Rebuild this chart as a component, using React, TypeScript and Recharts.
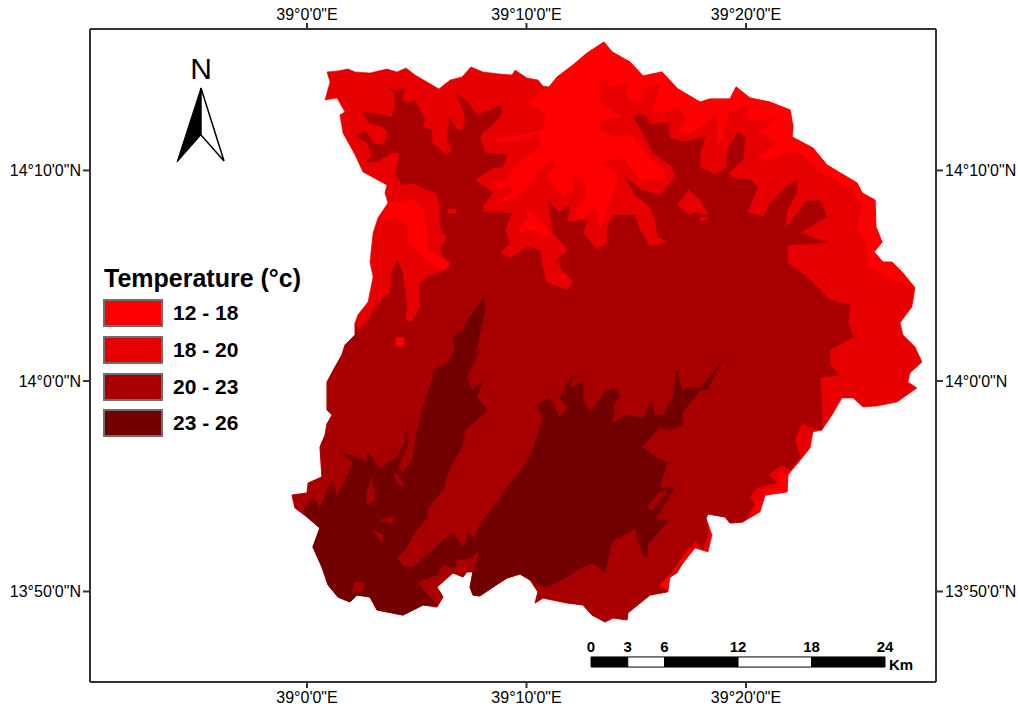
import React from "react";
import { ScatterChart, Scatter, XAxis, YAxis, ReferenceArea, ReferenceDot } from "recharts";

// Every map vertex is [arc-minutes east of 39°00', arc-minutes north of 14°00'].
type P = [number, number];

const rimNorth: P[] = [[0.91,14.68],[1.41,14.73],[1.87,14.82],[2.19,14.68],[2.87,14.63],[3.64,14.82],[4.10,14.68],[4.51,14.87],[4.92,14.54],[5.47,14.20],[6.01,13.87],[6.52,14.30],[7.06,14.44],[7.47,14.92],[8.02,14.68],[8.79,14.58],[9.34,14.54],[9.48,14.77],[10.02,14.39],[10.52,14.30],[10.75,14.01],[11.03,13.97],[11.39,14.44],[12.12,15.01],[12.76,15.58],[13.53,16.10],[13.90,15.63],[14.72,15.15],[15.31,14.49],[16.17,14.68],[16.90,13.87],[17.91,13.25],[18.36,13.40],[19.27,13.40],[19.55,13.97],[20.18,13.44],[21.09,13.25],[22.01,12.87],[22.14,12.07],[22.10,11.59],[23.05,11.07],[23.69,10.26],[25.06,9.41],[25.29,8.93],[25.88,8.60],[25.92,7.32],[26.20,6.60],[25.83,6.13],[26.24,5.65],[26.65,5.65],[27.11,5.18],[27.70,4.42],[27.56,3.52],[27.02,2.76]];
const rimEast: P[] = [[27.15,2.19],[27.70,1.62],[28.02,0.90],[27.47,0.38],[27.38,-0.05],[27.79,-0.33],[26.88,-1.00],[25.97,-1.19],[25.33,-1.24],[24.88,-0.81],[24.37,-0.81],[23.92,-1.62],[23.46,-2.33],[23.05,-2.42],[22.92,-3.18],[22.37,-3.90],[21.91,-4.47],[21.87,-5.27],[20.87,-5.42],[20.64,-6.22],[19.86,-6.70],[19.27,-6.75],[19.04,-6.46],[18.27,-6.32],[18.18,-6.51],[18.45,-7.32],[18.27,-8.12],[17.68,-7.93],[17.13,-8.65],[16.45,-9.45],[16.45,-10.02]];
const rimSouthEast: P[] = [[15.63,-10.17],[14.62,-11.02],[14.58,-11.35],[13.94,-11.26],[13.58,-11.45]];
const rimSouthWest: P[] = [[12.98,-11.12],[12.57,-10.64],[11.85,-10.55],[10.75,-10.31],[10.39,-10.55],[10.52,-10.02],[10.16,-9.45],[9.70,-9.17],[9.11,-9.36],[8.47,-9.79],[7.88,-10.21],[7.56,-10.17],[7.43,-9.79],[7.56,-9.07],[7.29,-9.07],[7.11,-9.31],[6.65,-9.12],[5.92,-9.79],[6.20,-10.26],[5.92,-10.74],[5.29,-10.64],[4.37,-11.12],[3.19,-10.88],[2.87,-10.26],[2.28,-10.17],[1.96,-10.50],[1.41,-10.26],[0.96,-9.69],[0.68,-8.84],[0.27,-7.89],[0.59,-6.98],[0,-6.46],[-0.55,-6.03],[-0.68,-5.42],[0,-5.32],[0.05,-4.85],[0.68,-4.56],[0.59,-3.14],[0.82,-2.57],[0.91,-2.04],[1.14,-1.62],[0.91,-1.38],[0.91,-0.05],[1.28,0.67],[1.59,1.24],[1.73,1.71],[2.19,2.19],[2.19,2.76]];
const rimWest: P[] = [[2.32,3.14],[2.78,3.75],[3.01,4.94],[2.87,5.65],[3.01,7.03],[3.23,7.74],[3.69,8.46],[3.55,8.93],[3.64,9.31],[2.55,9.93],[2.19,10.74],[1.64,11.78],[1.50,12.64],[1.73,12.78],[1.37,13.44],[0.82,13.35],[1.05,14.20]];

const band2023North: P[] = [[2.28,2.42],[2.73,2.80],[3.23,3.71],[3.78,4.18],[3.87,5.13],[4.10,5.75],[4.33,5.27],[4.56,3.52],[4.46,2.90],[4.78,2.80],[5.15,3.47],[5.15,4.66],[5.47,4.94],[6.52,5.37],[6.06,6.22],[6.38,6.84],[6.06,7.32],[6.06,8.27],[5.92,8.93],[5.47,9.07],[4.83,9.41],[4.33,9.31],[4.01,9.88],[4.24,10.83],[3.92,10.88],[3.19,10.40],[2.73,10.40],[2.96,10.74],[2.73,11.31],[2.23,11.64],[2.64,11.92],[3.01,11.31],[3.51,11.21],[3.69,11.78],[3.46,12.07],[2.87,12.26],[2.55,12.73],[3.01,12.73],[3.87,12.54],[4.01,13.11],[4.01,13.68],[3.69,13.97],[4.10,13.73],[4.46,13.92],[4.33,13.35],[4.56,13.16],[4.92,13.35],[5.38,12.40],[5.24,12.07],[5.69,11.92],[5.69,11.31],[6.38,10.74],[6.61,10.97],[6.38,11.45],[6.52,12.49],[6.83,11.92],[7.11,11.92],[7.20,12.54],[6.83,13.68],[7.29,13.25],[7.75,12.64],[8.34,12.87],[8.79,13.11],[8.88,12.73],[8.47,12.16],[8.02,11.83],[7.88,11.54],[8.11,10.83],[9.11,10.74],[8.93,10.17],[8.47,10.12],[7.65,9.55],[8.47,8.93],[8.02,8.36],[8.02,8.03],[9.34,7.98],[9.02,7.17],[9.25,6.56],[8.79,6.08],[9.25,5.84],[10.02,6.37],[10.62,6.22],[10.75,5.27],[10.93,4.66],[11.85,4.32],[12.12,4.70],[11.62,5.27],[11.39,5.75],[11.89,6.22],[11.21,7.03],[10.98,8.60],[11.44,8.03],[11.98,8.36],[11.85,7.55],[12.80,7.65],[12.57,7.03],[13.21,6.22],[13.67,6.56],[13.67,7.32],[13.94,7.89],[14.94,7.89],[15.17,7.17],[15.63,6.37],[16.45,6.60],[15.99,6.84],[15.85,7.65],[15.63,8.27],[14.94,8.84],[14.49,9.69],[15.26,9.07],[16.08,8.84],[16.77,9.64],[16.63,10.17],[15.76,10.83],[15.31,11.78],[14.81,12.64],[15.40,12.64],[15.63,12.16],[16.45,12.26],[16.54,11.54],[17.13,11.35],[18.13,11.59],[17.91,10.83],[17.91,10.17],[18.59,9.79],[19.14,10.17],[19.14,10.97],[19.64,11.83],[19.96,11.59],[19.86,10.50],[19.18,9.88],[19.41,9.64],[20.18,9.55],[20.55,9.22],[20.05,8.03],[20.78,7.79],[21.09,8.46],[21.78,9.22],[22.32,9.55],[22.32,8.93],[21.87,8.12],[21.78,7.27],[22.46,8.12],[22.69,8.50],[23.37,8.60],[23.69,7.79],[23.24,7.55],[22.46,7.03],[23.74,6.56],[21.87,6.46],[21.91,5.61],[22.83,4.89],[23.83,3.85],[24.74,3.61],[24.65,2.76],[24.88,2.09],[23.83,1.47],[23.83,0.76],[24.28,0.29],[23.37,0.19],[23.46,-1.38],[23.46,-2.33],[23.05,-2.23],[22.55,-2.00],[22.23,-2.80],[22.46,-3.61],[22.01,-4.23],[21.64,-3.99],[21.00,-4.47],[21.41,-4.85],[20.50,-5.08],[20.18,-5.51],[20.50,-6.03],[19.86,-6.70],[19.27,-6.75],[19.04,-6.46],[18.27,-6.32],[18.18,-6.51],[18.27,-7.22],[18.04,-8.03],[17.68,-7.55],[17.45,-8.03],[16.86,-9.12],[16.08,-9.60],[16.40,-10.02]];

const band2326West: P[] = [[8.02,3.94],[8.11,3.37],[8.02,2.90],[7.88,2.28],[7.65,1.00],[7.88,1.47],[7.29,0.19],[7.52,-0.43],[8.02,0.05],[7.75,-0.76],[8.20,-1.38],[7.75,-1.85],[7.20,-2.33],[7.06,-3.14],[6.52,-4.09],[6.20,-5.18],[5.92,-5.51],[5.47,-6.13],[5.47,-6.51],[4.92,-7.17],[4.56,-7.89],[4.10,-8.41],[4.46,-8.84],[4.83,-8.84],[5.60,-8.17],[6.20,-7.55],[6.65,-7.22],[7.11,-7.89],[7.34,-7.22],[7.56,-7.46],[7.88,-8.03],[7.43,-8.41],[6.83,-8.50],[6.74,-8.88],[6.20,-8.74],[5.92,-9.22],[5.24,-9.45],[5.06,-9.60],[5.60,-10.26],[5.92,-10.64],[5.29,-10.64],[4.37,-11.12],[3.19,-10.88],[2.87,-10.26],[2.28,-10.17],[1.96,-10.50],[1.41,-10.26],[0.96,-9.69],[0.68,-8.84],[0.27,-7.89],[0.59,-6.98],[0,-6.46],[-0.18,-6.13],[0.27,-5.56],[0.59,-5.99],[1.14,-4.70],[1.37,-5.51],[2.10,-3.90],[1.59,-3.42],[2.19,-3.61],[2.73,-3.85],[2.73,-3.37],[3.33,-4.13],[4.10,-3.61],[4.46,-2.95],[4.60,-1.95],[4.60,-3.04],[4.15,-4.09],[4.33,-4.37],[4.78,-3.75],[5.01,-2.47],[5.24,-1.38],[5.47,-0.67],[5.74,0.19],[5.74,0.52],[6.38,0.86],[6.74,1.47],[6.65,2.09],[7.11,2.42],[7.29,2.90],[7.43,3.04]];
const band2326Central: P[] = [[7.56,-10.17],[7.88,-10.21],[8.47,-9.79],[9.11,-9.36],[9.70,-9.17],[10.16,-9.45],[10.75,-9.79],[11.16,-9.69],[11.85,-9.31],[12.44,-8.88],[13.03,-8.65],[13.58,-9.12],[13.80,-8.03],[13.94,-7.55],[14.62,-7.22],[14.94,-6.98],[15.26,-8.17],[15.49,-8.41],[15.54,-7.70],[15.99,-7.22],[16.45,-6.60],[15.85,-6.60],[16.22,-5.99],[16.77,-5.08],[16.08,-5.08],[16.17,-4.70],[16.40,-3.90],[15.95,-3.66],[15.26,-3.14],[16.08,-2.19],[16.54,-2.33],[17.09,-2.09],[17.09,-1.52],[17.91,-0.43],[18.22,-0.43],[18.95,1.09],[18.59,0.52],[17.91,-0.33],[17.45,-0.29],[17.09,-0.43],[16.86,0.43],[16.67,-0.76],[16.22,-1.62],[15.85,-1.62],[15.72,-1.00],[15.31,-1.76],[14.49,-1.62],[13.94,-2.00],[13.80,-2.33],[14.03,-1.52],[13.94,-1.24],[14.26,-0.67],[14.03,-0.33],[13.58,-0.52],[12.89,-1.47],[12.57,-0.90],[12.57,-0.05],[11.98,-0.33],[12.12,0.29],[11.85,-0.10],[11.53,-0.81],[11.89,-1.28],[11.53,-1.76],[11.07,-0.81],[10.48,-1.14],[10.75,-1.85],[10.52,-2.42],[10.30,-3.28],[9.84,-4.09],[9.11,-5.04],[8.47,-6.03],[8.02,-6.60],[7.56,-7.46],[7.88,-8.03],[7.56,-9.07],[7.43,-9.79]];

const band1218Main: P[] = [[11.03,13.97],[10.02,13.25],[10.93,12.64],[10.71,11.92],[9.39,11.59],[8.57,11.54],[8.66,11.31],[9.70,11.45],[10.48,11.78],[10.71,11.12],[9.70,10.50],[9.48,10.17],[9.11,9.55],[8.47,9.45],[8.79,9.07],[9.25,9.45],[9.39,8.93],[8.66,8.50],[8.47,8.27],[9.39,8.74],[10.02,9.22],[10.62,10.02],[11.21,10.59],[11.30,10.17],[10.93,9.69],[11.66,8.74],[12.12,9.07],[12.12,9.69],[12.57,9.69],[12.76,8.74],[12.21,8.12],[12.44,7.65],[13.21,8.27],[13.35,7.32],[13.80,7.79],[13.49,7.65],[13.80,8.60],[14.17,9.55],[14.12,9.88],[13.35,10.36],[14.40,10.64],[15.17,9.55],[16.22,9.64],[16.31,9.93],[15.63,10.50],[14.85,11.69],[14.03,11.59],[13.35,11.92],[13.35,12.40],[14.26,12.54],[13.35,13.21],[13.35,14.30],[13.94,13.97],[14.58,14.20],[14.62,13.44],[15.17,13.25],[15.40,13.97],[16.08,14.15],[16.17,14.68],[15.31,14.49],[14.72,15.15],[13.90,15.63],[13.53,16.10],[12.76,15.58],[12.12,15.01],[11.39,14.44]];
const band1218NorthEast: P[] = [[16.08,14.15],[15.76,12.78],[16.40,12.78],[16.90,13.02],[17.31,12.49],[16.90,11.83],[17.45,11.78],[17.91,12.07],[18.73,12.78],[18.68,11.21],[18.95,11.59],[19.18,12.73],[20.05,13.11],[20.09,12.40],[20.78,12.40],[21.32,12.54],[20.64,11.78],[21.41,11.35],[20.96,10.97],[20.50,10.59],[21.09,10.50],[22.10,10.97],[22.83,10.59],[23.37,9.93],[23.96,9.64],[24.83,9.07],[25.33,8.36],[25.06,7.17],[25.51,6.56],[25.56,5.51],[26.56,4.89],[27.61,4.47],[27.70,4.42],[27.11,5.18],[26.65,5.65],[26.24,5.65],[25.83,6.13],[26.20,6.60],[25.92,7.32],[25.88,8.60],[25.29,8.93],[25.06,9.41],[23.69,10.26],[23.05,11.07],[22.10,11.59],[22.14,12.07],[22.01,12.87],[21.09,13.25],[20.18,13.44],[19.55,13.97],[19.27,13.40],[18.36,13.40],[17.91,13.25],[16.90,13.87],[16.17,14.68]];
const band1218Ridge: P[] = [[3.69,8.46],[4.83,8.60],[5.29,8.12],[5.51,6.84],[5.47,6.22],[6.52,5.61],[6.20,5.27],[5.47,5.75],[4.83,6.37],[4.56,6.56],[4.69,7.17],[4.24,7.79],[3.78,7.65],[3.33,7.65]];
const band1218Spur: P[] = [[10.02,8.22],[10.48,7.65],[10.75,7.51],[11.16,7.03],[10.75,6.84],[10.30,7.17],[9.61,7.08],[10.07,7.79]];
const band1218Tip: P[] = [[11.44,5.13],[11.85,5.04],[11.71,4.75]];
const band1218Dot: P[] = [[4.05,2.04],[4.42,2.04],[4.42,1.66],[4.05,1.66]];
const band1218SouthEastA: P[] = [[21.55,-4.23],[21.91,-4.47],[21.87,-5.27],[20.87,-5.42],[20.64,-5.18],[21.46,-5.04]];
const band1218SouthEastB: P[] = [[20.87,-5.42],[20.64,-6.13],[20.05,-6.51],[20.41,-5.89]];
const band1218SouthEastC: P[] = [[17.59,-8.03],[17.09,-8.65],[16.54,-9.31],[16.45,-9.93],[16.08,-9.69],[16.54,-9.22],[17.45,-7.89]];

const band1820IslandA: P[] = [[17.36,9.07],[17.91,8.60],[18.27,7.89],[17.68,8.03],[17.45,7.89],[16.90,8.36]];
const band1820IslandB: P[] = [[17.91,7.74],[18.36,7.74],[17.91,7.60]];
const band1820IslandC: P[] = [[6.42,8.17],[6.79,8.17],[6.79,7.98],[6.42,7.98]];

const band2023Islands: P[][] = [
  [[2.96,-4.61],[3.10,-5.65],[2.73,-5.89],[2.73,-5.27]],
  [[3.33,-6.60],[4.01,-6.46],[3.87,-6.75]],
  [[3.01,-7.08],[3.46,-7.32],[3.42,-7.70]],
  [[3.92,-4.32],[4.24,-4.56],[4.37,-5.04],[4.15,-4.85]],
  [[2.19,-9.55],[2.64,-9.60],[2.51,-10.02],[2.05,-10.02]],
  [[15.49,-5.99],[16.17,-5.18],[16.40,-5.27],[15.72,-6.13]],
];

const arrowLeft: P[] = [[-4.83,13.92],[-5.92,10.40],[-4.83,11.69]];
const arrowRight: P[] = [[-4.83,13.92],[-4.83,11.69],[-3.78,10.45]];

const lonTicks = [0, 10, 20];
const latTicks = [-10, 0, 10];
const lonDomain = [-9.886, 28.656];
const latDomain = [-14.3, 16.72];

const legendTitle = "Temperature (°c)";
const legendLabels = ["12 - 18", "18 - 20", "20 - 23", "23 - 26"];
const legendColors = ["#ff0000", "#e60000", "#a80000", "#730000"];

const scaleKm = [0, 3, 6, 12, 18, 24];
const scaleZero = 12.94;
const scaleMinPerKm = 0.558;

const [c1218, c1820, c2023, c2326] = legendColors;
const fullOutline = [...rimNorth, ...rimEast, ...rimSouthEast, ...rimSouthWest, ...rimWest];
const band2023 = [...band2023North, ...rimSouthEast, ...rimSouthWest];

const layers: { pts: P[]; color: string }[] = [
  { pts: fullOutline, color: c1820 },
  { pts: band2023, color: c2023 },
  { pts: band2326West, color: c2326 },
  { pts: band2326Central, color: c2326 },
  ...band2023Islands.map((pts) => ({ pts, color: c2023 })),
  { pts: band1820IslandA, color: c1820 },
  { pts: band1820IslandB, color: c1820 },
  { pts: band1820IslandC, color: c1820 },
  { pts: band1218Main, color: c1218 },
  { pts: band1218NorthEast, color: c1218 },
  { pts: band1218Ridge, color: c1218 },
  { pts: band1218Spur, color: c1218 },
  { pts: band1218Tip, color: c1218 },
  { pts: band1218Dot, color: c1218 },
  { pts: band1218SouthEastA, color: c1218 },
  { pts: band1218SouthEastB, color: c1218 },
  { pts: band1218SouthEastC, color: c1218 },
];

const rows = (pts: P[]) => pts.map(([lon, lat]) => ({ lon, lat }));
const font = "'Liberation Sans', Arial, sans-serif";
const tickStyle = { fontFamily: font, fontSize: 16, fill: "#000" };
const frame = { stroke: "#333", strokeWidth: 2 };
const lonLabel = (m: number) => `39°${m}'0"E`;
const latLabel = (m: number) => (m < 0 ? `13°${60 + m}'0"N` : `14°${m}'0"N`);
const noShape = () => <g />;

const swatchTops = [299, 336, 373, 409];

export default function App() {
  return (
    <div style={{ position: "absolute", left: 0, top: 0, width: 1018, height: 709, background: "#fff" }}>
      <ScatterChart width={1018} height={709} margin={{ top: 0, right: 0, bottom: 0, left: 0 }}>
        <XAxis xAxisId="b" orientation="bottom" type="number" dataKey="lon" domain={lonDomain} ticks={lonTicks} tickFormatter={lonLabel} height={27} axisLine={frame} tickLine={frame} tickSize={6} tickMargin={4} tick={tickStyle} interval={0} allowDataOverflow />
        <XAxis xAxisId="t" orientation="top" type="number" dataKey="lon" domain={lonDomain} ticks={lonTicks} tickFormatter={lonLabel} height={29} axisLine={frame} tickLine={frame} tickSize={6} tickMargin={3} tick={tickStyle} interval={0} allowDataOverflow />
        <YAxis yAxisId="l" orientation="left" type="number" dataKey="lat" domain={latDomain} ticks={latTicks} tickFormatter={latLabel} width={90} axisLine={frame} tickLine={frame} tickSize={7} tick={tickStyle} interval={0} allowDataOverflow />
        <YAxis yAxisId="r" orientation="right" type="number" dataKey="lat" domain={latDomain} ticks={latTicks} tickFormatter={latLabel} width={82} axisLine={frame} tickLine={frame} tickSize={7} tick={tickStyle} interval={0} allowDataOverflow />
        {layers.map((l, i) => (
          <Scatter key={i} xAxisId="b" yAxisId="l" data={rows(l.pts)} isAnimationActive={false} fill={l.color} line={{ fill: l.color, stroke: l.color, strokeWidth: 0.6 }} lineJointType="linearClosed" shape={noShape} />
        ))}
        <Scatter xAxisId="b" yAxisId="l" data={rows(arrowLeft)} isAnimationActive={false} fill="#000" line={{ fill: "#000", stroke: "#000", strokeWidth: 1 }} lineJointType="linearClosed" shape={noShape} />
        <Scatter xAxisId="b" yAxisId="l" data={rows(arrowRight)} isAnimationActive={false} fill="#000" line={{ fill: "#fff", stroke: "#000", strokeWidth: 1.5 }} lineJointType="linearClosed" shape={noShape} />
        <ReferenceDot xAxisId="b" yAxisId="l" x={-4.83} y={14.85} r={0} label={{ value: "N", position: "center", fontFamily: font, fontSize: 30, fill: "#000" }} />
        {scaleKm.slice(0, -1).map((km, i) => (
          <ReferenceArea key={km} xAxisId="b" yAxisId="l" x1={scaleZero + km * scaleMinPerKm} x2={scaleZero + scaleKm[i + 1] * scaleMinPerKm} y1={-13.11} y2={-13.59} fill={i % 2 ? "#fff" : "#000"} fillOpacity={1} stroke="#000" strokeWidth={1} />
        ))}
        {scaleKm.map((km) => (
          <ReferenceDot key={km} xAxisId="b" yAxisId="l" x={scaleZero + km * scaleMinPerKm} y={-12.64} r={0} label={{ value: String(km), position: "center", fontFamily: font, fontSize: 15, fontWeight: 700, fill: "#000" }} />
        ))}
        <ReferenceDot xAxisId="b" yAxisId="l" x={27.06} y={-13.5} r={0} label={{ value: "Km", position: "center", fontFamily: font, fontSize: 15, fontWeight: 700, fill: "#000" }} />
      </ScatterChart>
      <div style={{ position: "absolute", left: 104, top: 263, fontFamily: font, fontWeight: 700, fontSize: 25, lineHeight: "30px", color: "#000", whiteSpace: "nowrap" }}>{legendTitle}</div>
      {legendLabels.map((label, i) => (
        <React.Fragment key={label}>
          <div style={{ position: "absolute", left: 103, top: swatchTops[i], width: 60, height: 28, boxSizing: "border-box", background: legendColors[i], border: "2px solid #6e6e6e" }} />
          <div style={{ position: "absolute", left: 173, top: swatchTops[i], fontFamily: font, fontWeight: 700, fontSize: 21, lineHeight: "28px", color: "#000", whiteSpace: "nowrap" }}>{label}</div>
        </React.Fragment>
      ))}
    </div>
  );
}
